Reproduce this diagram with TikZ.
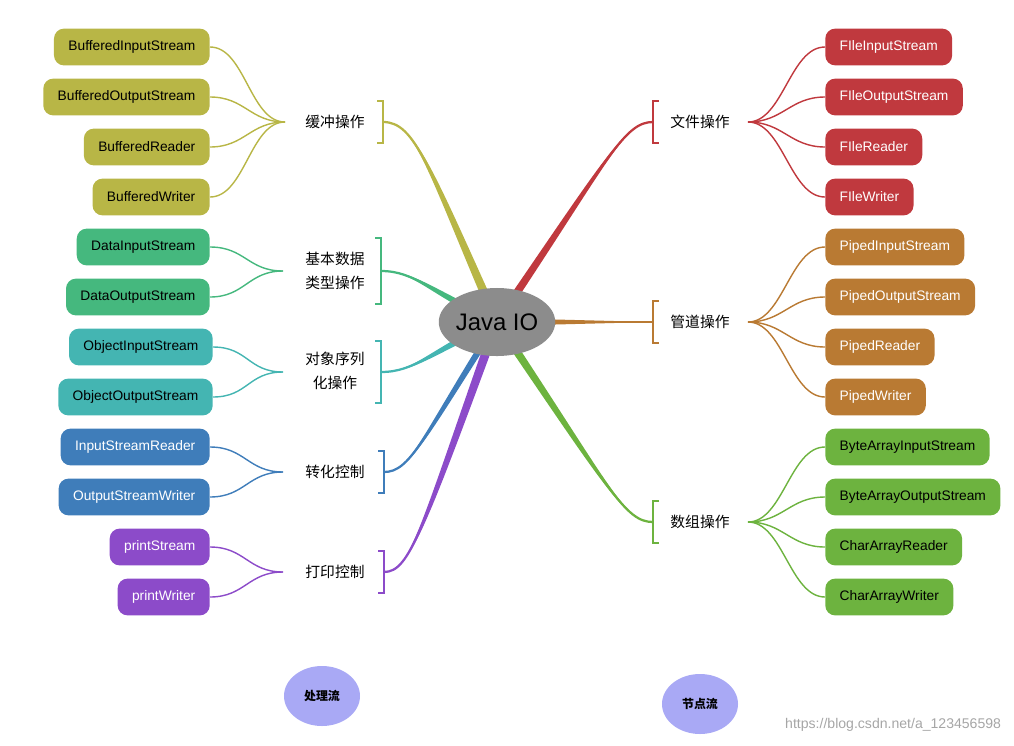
\documentclass[tikz,border=0pt]{standalone}
\usepackage{fontspec}
\setmainfont{Liberation Sans}
\newfontfamily\cjk{Noto Sans CJK SC}
\usetikzlibrary{calc,shapes.geometric}
\definecolor{bufcol}{HTML}{B8B646}
\definecolor{datacol}{HTML}{45B87E}
\definecolor{objcol}{HTML}{44B5B2}
\definecolor{convcol}{HTML}{3F7DBA}
\definecolor{prntcol}{HTML}{8C4BC9}
\definecolor{filecol}{HTML}{C0393E}
\definecolor{pipecol}{HTML}{B97A33}
\definecolor{arrcol}{HTML}{6DB33F}
\definecolor{lavcol}{HTML}{A9A9F5}

\begin{document}
\begin{tikzpicture}[x=0.025cm,y=-0.025cm,
  leaf/.style={rounded corners=0.25cm,minimum height=0.92cm,inner xsep=0.36cm,
    font=\fontsize{9.8}{11}\selectfont},
  leafl/.style={leaf,anchor=east},
  leafr/.style={leaf,anchor=west},
  cat/.style={font=\cjk\fontsize{10.5}{17}\selectfont,align=center},
  twig/.style={line width=1pt},
  bracketline/.style={line width=1.4pt},
  flow/.style={ellipse,fill=lavcol,minimum width=1.9cm,minimum height=1.5cm,
    font=\cjk\bfseries\fontsize{8.5}{10}\selectfont}]
\useasboundingbox (0,0) rectangle (1014,745);

% centre
\coordinate (java) at (497,322);

% categories
\node[cat] (buf) at (335,122) {缓冲操作};
\node[cat] (data) at (335,271) {基本数据\\类型操作};
\node[cat] (obj) at (335,371) {对象序列\\化操作};
\node[cat] (conv) at (335,472) {转化控制};
\node[cat] (prnt) at (335,572) {打印控制};
\node[cat] (file) at (700,122) {文件操作};
\node[cat] (pipe) at (700,322) {管道操作};
\node[cat] (arr) at (700,522) {数组操作};

\coordinate (bufb) at (383,122);
\coordinate (datab) at (381,271);
\coordinate (objb) at (381,372);
\coordinate (convb) at (384,472);
\coordinate (prntb) at (384,572);
\coordinate (fileb) at (653,122);
\coordinate (pipeb) at (653,322);
\coordinate (arrb) at (653,522);

\coordinate (bufc) at (285,122);
\coordinate (datac) at (283,271);
\coordinate (objc) at (283,372);
\coordinate (convc) at (283,472);
\coordinate (prntc) at (283,572);
\coordinate (filec) at (748,122);
\coordinate (pipec) at (748,322);
\coordinate (arrc) at (748,522);

% brackets
\draw[bracketline,bufcol] ($(bufb)+(-6,-21)$) -- ($(bufb)+(0,-21)$) -- ($(bufb)+(0,21)$) -- ($(bufb)+(-6,21)$);
\draw[bracketline,datacol] ($(datab)+(-6,-33)$) -- ($(datab)+(0,-33)$) -- ($(datab)+(0,33)$) -- ($(datab)+(-6,33)$);
\draw[bracketline,objcol] ($(objb)+(-6,-31)$) -- ($(objb)+(0,-31)$) -- ($(objb)+(0,31)$) -- ($(objb)+(-6,31)$);
\draw[bracketline,convcol] ($(convb)+(-6,-21)$) -- ($(convb)+(0,-21)$) -- ($(convb)+(0,21)$) -- ($(convb)+(-6,21)$);
\draw[bracketline,prntcol] ($(prntb)+(-6,-21)$) -- ($(prntb)+(0,-21)$) -- ($(prntb)+(0,21)$) -- ($(prntb)+(-6,21)$);
\draw[bracketline,filecol] ($(fileb)+(6,-21)$) -- ($(fileb)+(0,-21)$) -- ($(fileb)+(0,21)$) -- ($(fileb)+(6,21)$);
\draw[bracketline,pipecol] ($(pipeb)+(6,-21)$) -- ($(pipeb)+(0,-21)$) -- ($(pipeb)+(0,21)$) -- ($(pipeb)+(6,21)$);
\draw[bracketline,arrcol] ($(arrb)+(6,-21)$) -- ($(arrb)+(0,-21)$) -- ($(arrb)+(0,21)$) -- ($(arrb)+(6,21)$);

% main branches
\draw[bufcol,line width=1.6pt] (bufb) .. controls (415,122) and (428,165) .. (java);
\fill[bufcol] (bufb) .. controls (415,122) and (425,165) .. ($(java)+(-5,0)$) -- ($(java)+(5,0)$) .. controls (431,165) and (415,122) .. (bufb) -- cycle;
\draw[datacol,line width=1.6pt] (datab) .. controls (415,271) and (430,292) .. (java);
\fill[datacol] (datab) .. controls (415,271) and (430,288) .. ($(java)+(0,-4)$) -- ($(java)+(0,4)$) .. controls (430,296) and (415,271) .. (datab) -- cycle;
\draw[objcol,line width=1.6pt] (objb) .. controls (415,372) and (430,352) .. (java);
\fill[objcol] (objb) .. controls (415,372) and (430,348) .. ($(java)+(0,-4)$) -- ($(java)+(0,4)$) .. controls (430,356) and (415,372) .. (objb) -- cycle;
\draw[convcol,line width=1.6pt] (convb) .. controls (410,472) and (422,440) .. (java);
\fill[convcol] (convb) .. controls (410,472) and (419,440) .. ($(java)+(-4,0)$) -- ($(java)+(4,0)$) .. controls (425,440) and (410,472) .. (convb) -- cycle;
\draw[prntcol,line width=1.6pt] (prntb) .. controls (410,572) and (422,530) .. (java);
\fill[prntcol] (prntb) .. controls (410,572) and (419,530) .. ($(java)+(-5,0)$) -- ($(java)+(5,0)$) .. controls (425,530) and (410,572) .. (prntb) -- cycle;
\draw[filecol,line width=1.6pt] (fileb) .. controls (625,122) and (610,155) .. (java);
\fill[filecol] (fileb) .. controls (625,122) and (607,155) .. ($(java)+(-5,0)$) -- ($(java)+(5,0)$) .. controls (613,155) and (625,122) .. (fileb) -- cycle;
\draw[pipecol,line width=1.6pt] (pipeb) -- (java);
\fill[pipecol] (pipeb) -- ($(java)+(0,-4)$) -- ($(java)+(0,4)$) -- cycle;
\draw[arrcol,line width=1.6pt] (arrb) .. controls (625,522) and (610,490) .. (java);
\fill[arrcol] (arrb) .. controls (625,522) and (607,490) .. ($(java)+(-5,0)$) -- ($(java)+(5,0)$) .. controls (613,490) and (625,522) .. (arrb) -- cycle;

\node[ellipse,fill=black!45,inner sep=0pt,minimum width=2.875cm,minimum height=1.7cm,
  font=\fontsize{17}{20}\selectfont] (javaio) at (java) {Java IO};

% left leaves
\node[leafl,fill=bufcol] (bis) at (210,47) {BufferedInputStream};
\node[leafl,fill=bufcol] (bos) at (210,97) {BufferedOutputStream};
\node[leafl,fill=bufcol] (br) at (210,147) {BufferedReader};
\node[leafl,fill=bufcol] (bw) at (210,197) {BufferedWriter};
\node[leafl,fill=datacol] (dis) at (210,247) {DataInputStream};
\node[leafl,fill=datacol] (dos) at (210,297) {DataOutputStream};
\node[leafl,fill=objcol] (ois) at (213,347) {ObjectInputStream};
\node[leafl,fill=objcol] (oos) at (213,397) {ObjectOutputStream};
\node[leafl,fill=convcol,text=white] (isr) at (210,447) {InputStreamReader};
\node[leafl,fill=convcol,text=white] (osw) at (210,497) {OutputStreamWriter};
\node[leafl,fill=prntcol,text=white] (ps) at (210,547) {printStream};
\node[leafl,fill=prntcol,text=white] (pw) at (210,597) {printWriter};

% right leaves
\node[leafr,fill=filecol,text=white] (fis) at (825,47) {FIleInputStream};
\node[leafr,fill=filecol,text=white] (fos) at (825,97) {FIleOutputStream};
\node[leafr,fill=filecol,text=white] (fr) at (825,147) {FIleReader};
\node[leafr,fill=filecol,text=white] (fw) at (825,197) {FIleWriter};
\node[leafr,fill=pipecol,text=white] (pis) at (825,247) {PipedInputStream};
\node[leafr,fill=pipecol,text=white] (pos) at (825,297) {PipedOutputStream};
\node[leafr,fill=pipecol,text=white] (pr) at (825,347) {PipedReader};
\node[leafr,fill=pipecol,text=white] (pwr) at (825,397) {PipedWriter};
\node[leafr,fill=arrcol] (bais) at (825,447) {ByteArrayInputStream};
\node[leafr,fill=arrcol] (baos) at (825,497) {ByteArrayOutputStream};
\node[leafr,fill=arrcol] (car) at (825,547) {CharArrayReader};
\node[leafr,fill=arrcol] (caw) at (825,597) {CharArrayWriter};

% twigs
\foreach \n in {bis,bos,br,bw}
  \draw[twig,bufcol] (bufc) .. controls +(-35,0) and +(35,0) .. (\n.east);
\foreach \n in {dis,dos}
  \draw[twig,datacol] (datac) .. controls +(-35,0) and +(35,0) .. (\n.east);
\foreach \n in {ois,oos}
  \draw[twig,objcol] (objc) .. controls +(-35,0) and +(35,0) .. (\n.east);
\foreach \n in {isr,osw}
  \draw[twig,convcol] (convc) .. controls +(-35,0) and +(35,0) .. (\n.east);
\foreach \n in {ps,pw}
  \draw[twig,prntcol] (prntc) .. controls +(-35,0) and +(35,0) .. (\n.east);
\foreach \n in {fis,fos,fr,fw}
  \draw[twig,filecol] (filec) .. controls +(35,0) and +(-35,0) .. (\n.west);
\foreach \n in {pis,pos,pr,pwr}
  \draw[twig,pipecol] (pipec) .. controls +(35,0) and +(-35,0) .. (\n.west);
\foreach \n in {bais,baos,car,caw}
  \draw[twig,arrcol] (arrc) .. controls +(35,0) and +(-35,0) .. (\n.west);

% bottom
\node[flow] (proc) at (322,696) {处理流};
\node[flow] (nodef) at (700,704) {节点流};
\node[anchor=east,text=black!35,font=\fontsize{10}{12}\selectfont] (mark) at (1006,725) {https://blog.csdn.net/a\_123456598};
\end{tikzpicture}
\end{document}
